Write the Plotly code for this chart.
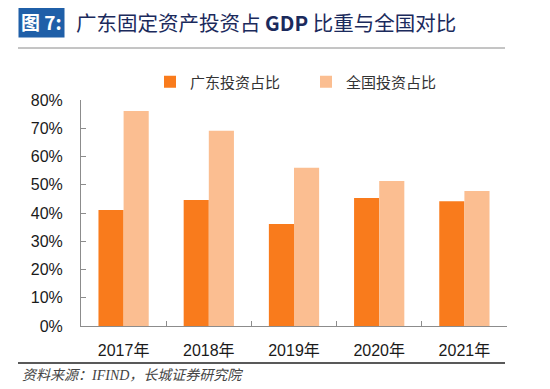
import plotly.graph_objects as go

years = ["2017年", "2018年", "2019年", "2020年", "2021年"]
guangdong = [0.411, 0.446, 0.361, 0.453, 0.442]
national = [0.761, 0.691, 0.560, 0.513, 0.478]
series_names = ["广东投资占比", "全国投资占比"]
y_ticks = [0, 0.1, 0.2, 0.3, 0.4, 0.5, 0.6, 0.7, 0.8]

FONT = "Liberation Sans, Arial, Noto Sans CJK SC, sans-serif"
CJK = "Noto Sans CJK SC, sans-serif"

fig = go.Figure()
fig.add_trace(go.Bar(x=years, y=guangdong, name=series_names[0],
                     marker=dict(color="#F97B1C", line=dict(width=0))))
fig.add_trace(go.Bar(x=years, y=national, name=series_names[1],
                     marker=dict(color="#FBBE91", line=dict(width=0))))

# page body has an 8px default margin; work in window pixels and convert
OFF = 8
WIN_W, WIN_H = 550, 389
W, H = WIN_W - OFF, WIN_H - OFF
PL, PR, PT, PB = 81, 507, 100, 326   # plot area in window pixels
L, R, T, B = PL - OFF, WIN_W - PR, PT - OFF, WIN_H - PB
pw, ph = PR - PL, PB - PT

def px(x):
    return (x - PL) / pw

def py(y):
    return (PB - y) / ph

fig.update_layout(
    width=W, height=H,
    margin=dict(l=L, r=R, t=T, b=B, pad=0),
    paper_bgcolor="white", plot_bgcolor="white",
    barmode="group", bargap=0.41, bargroupgap=0,
    font=dict(family=FONT, size=16, color="#1a1a1a"),
    showlegend=True,
    legend=dict(orientation="h", x=px(150), xanchor="left", y=py(82), yanchor="middle",
                font=dict(family=CJK, size=15, color="#333333"),
                itemwidth=30, entrywidth=111, entrywidthmode="pixels",
                bgcolor="rgba(0,0,0,0)", borderwidth=0, traceorder="normal"),
    xaxis=dict(type="category", showline=True, linecolor="#8c8c8c", linewidth=1,
               ticks="inside", ticklen=5, tickcolor="#8c8c8c", tickson="boundaries",
               showgrid=False, ticklabelstandoff=10,
               tickfont=dict(family=FONT, size=16, color="#1a1a1a")),
    yaxis=dict(range=[0, 0.8], tickvals=y_ticks, tickformat=".0%", showline=True,
               linecolor="#8c8c8c", linewidth=1, ticks="inside", ticklen=5,
               tickcolor="#8c8c8c", showgrid=False, zeroline=False,
               ticklabelstandoff=14,
               tickfont=dict(family=FONT, size=16, color="#1a1a1a")),
)

# title block
fig.add_annotation(xref="paper", yref="paper", x=px(18), y=py(22), xanchor="left", yanchor="middle",
                   text="<b>图 7:</b>", showarrow=False, bgcolor="#1F5FA8",
                   font=dict(family=CJK, size=19, color="white"), borderpad=2)
fig.add_annotation(xref="paper", yref="paper", x=px(74), y=py(22), xanchor="left", yanchor="middle",
                   text="广东固定资产投资占 <b>GDP</b> 比重与全国对比", showarrow=False,
                   font=dict(family="Noto Sans CJK SC, Liberation Serif, serif", size=20.5, color="#1B2A5C"))
fig.add_shape(type="line", xref="paper", yref="paper", x0=px(18), x1=px(505), y0=py(48), y1=py(48),
              line=dict(color="#8a8a8a", width=1))
fig.add_shape(type="line", xref="paper", yref="paper", x0=px(18), x1=px(505), y0=py(363), y1=py(363),
              line=dict(color="#222222", width=1.5))
fig.add_annotation(xref="paper", yref="paper", x=px(20), y=py(375), xanchor="left", yanchor="middle",
                   text="<i>资料来源：IFIND，长城证券研究院</i>", showarrow=False,
                   font=dict(family="Liberation Serif, Noto Sans CJK SC, serif", size=14, color="#444444"))

fig.write_html("out.html")
